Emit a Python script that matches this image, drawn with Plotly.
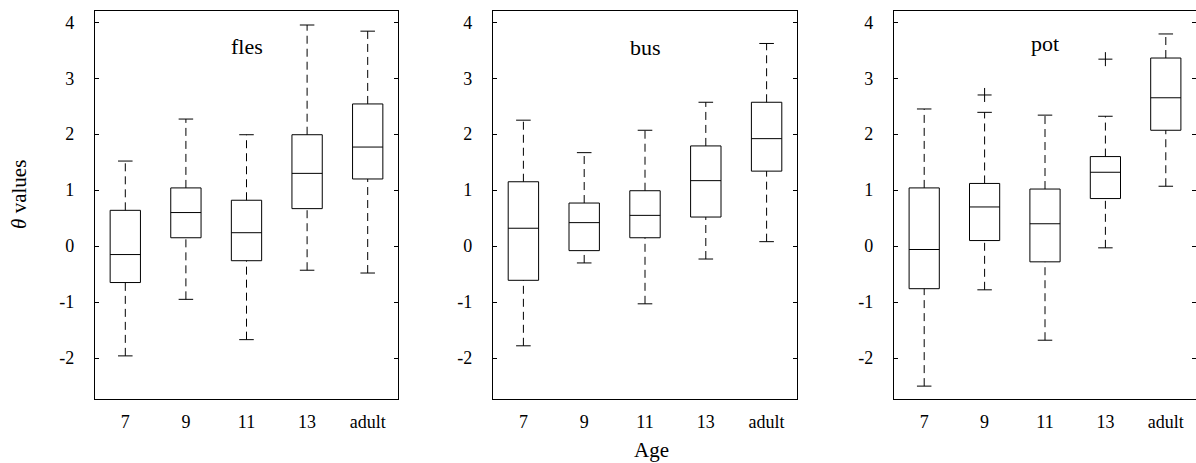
import plotly.graph_objects as go

# ---------------- data ----------------
categories = ["7", "9", "11", "13", "adult"]
panels = ["fles", "bus", "pot"]

fles_lower = [-1.96, -0.95, -1.67, -0.43, -0.48]
fles_q1 = [-0.65, 0.15, -0.26, 0.67, 1.20]
fles_median = [-0.15, 0.60, 0.24, 1.30, 1.77]
fles_q3 = [0.64, 1.04, 0.82, 1.99, 2.54]
fles_upper = [1.52, 2.27, 1.99, 3.95, 3.84]
fles_outliers_cat = []
fles_outliers_val = []

bus_lower = [-1.78, -0.30, -1.03, -0.23, 0.08]
bus_q1 = [-0.61, -0.08, 0.15, 0.52, 1.34]
bus_median = [0.32, 0.42, 0.55, 1.17, 1.92]
bus_q3 = [1.15, 0.77, 0.99, 1.79, 2.57]
bus_upper = [2.25, 1.67, 2.07, 2.57, 3.62]
bus_outliers_cat = []
bus_outliers_val = []

pot_lower = [-2.50, -0.78, -1.68, -0.03, 1.07]
pot_q1 = [-0.76, 0.10, -0.28, 0.85, 2.07]
pot_median = [-0.06, 0.70, 0.40, 1.32, 2.65]
pot_q3 = [1.04, 1.12, 1.02, 1.60, 3.36]
pot_upper = [2.45, 2.39, 2.34, 2.32, 3.79]
pot_outliers_cat = ["9", "13"]
pot_outliers_val = [2.70, 3.34]

y_tickvals = [-2, -1, 0, 1, 2, 3, 4]
y_ticktext = ["-2", "-1", "0", "1", "2", "3", "4"]

# ---------------- style ----------------
FONT = "Liberation Serif, Times New Roman, serif"
BOX_W = 0.5
CAP_HALF = 0.12
domains = [(95 / 1196, 398 / 1196), (493 / 1196, 797 / 1196), (894 / 1196, 1.0)]
title_y = [3.57, 3.55, 3.62]

data = {
    "fles": (fles_lower, fles_q1, fles_median, fles_q3, fles_upper, fles_outliers_cat, fles_outliers_val),
    "bus": (bus_lower, bus_q1, bus_median, bus_q3, bus_upper, bus_outliers_cat, bus_outliers_val),
    "pot": (pot_lower, pot_q1, pot_median, pot_q3, pot_upper, pot_outliers_cat, pot_outliers_val),
}

fig = go.Figure()
pos = list(range(1, len(categories) + 1))

for k, name in enumerate(panels):
    lo, q1, med, q3, up, ocat, oval = data[name]
    xa = "x" if k == 0 else f"x{k+1}"
    ya = "y" if k == 0 else f"y{k+1}"
    # dashed whiskers
    wx, wy = [], []
    for p, a, b, c, d in zip(pos, lo, q1, q3, up):
        wx += [p, p, None, p, p, None]
        wy += [c, d, None, a, b, None]
    fig.add_trace(go.Scatter(x=wx, y=wy, mode="lines", xaxis=xa, yaxis=ya,
                             line=dict(color="black", width=1, dash="8px,5px"),
                             showlegend=False, hoverinfo="skip"))
    # whisker caps
    cx, cy = [], []
    for p, a, d in zip(pos, lo, up):
        cx += [p - CAP_HALF, p + CAP_HALF, None, p - CAP_HALF, p + CAP_HALF, None]
        cy += [d, d, None, a, a, None]
    fig.add_trace(go.Scatter(x=cx, y=cy, mode="lines", xaxis=xa, yaxis=ya,
                             line=dict(color="black", width=1),
                             showlegend=False, hoverinfo="skip"))
    # boxes
    fig.add_trace(go.Box(x=pos, q1=q1, median=med, q3=q3, lowerfence=q1, upperfence=q3,
                         width=BOX_W, whiskerwidth=0, boxpoints=False,
                         line=dict(color="black", width=1), fillcolor="rgba(255,255,255,0)",
                         xaxis=xa, yaxis=ya, showlegend=False))
    # outliers
    if ocat:
        ox = [pos[categories.index(c)] for c in ocat]
        fig.add_trace(go.Scatter(x=ox, y=oval, mode="markers", xaxis=xa, yaxis=ya,
                                 marker=dict(symbol="cross-thin", size=10,
                                             line=dict(color="black", width=1)),
                                 showlegend=False))
    # panel label
    fig.add_annotation(x=3, y=title_y[k], xref=xa, yref=ya, text=name, showarrow=False,
                       font=dict(family=FONT, size=22, color="black"))

    axis_common = dict(showline=True, linecolor="black", linewidth=1.2, mirror="ticks",
                       showgrid=False, zeroline=False)
    fig.layout[("xaxis" if k == 0 else f"xaxis{k+1}")] = dict(
        domain=list(domains[k]), range=[0.5, 5.5], tickvals=pos, ticktext=categories,
        ticks="", anchor=ya, ticklabelstandoff=6, **axis_common)
    fig.layout[("yaxis" if k == 0 else f"yaxis{k+1}")] = dict(
        domain=[0, 1], range=[-2.73, 4.2], tickvals=y_tickvals, ticktext=y_ticktext,
        ticks="inside", ticklen=4, tickcolor="black", anchor=xa, ticklabelstandoff=16,
        **axis_common)

fig.update_xaxes(tickfont=dict(family=FONT, size=18, color="black"))
fig.update_yaxes(tickfont=dict(family=FONT, size=18, color="black"))

fig.add_annotation(x=651 / 1196, y=-0.131, xref="paper", yref="paper", text="Age",
                   showarrow=False, yanchor="middle",
                   font=dict(family=FONT, size=21, color="black"))
fig.add_annotation(x=19 / 1196, y=0.526, xref="paper", yref="paper", text="<i>θ</i> values",
                   textangle=-90, showarrow=False, xanchor="center", yanchor="middle",
                   font=dict(family=FONT, size=21, color="black"))

fig.update_layout(width=1196, height=463, margin=dict(l=0, r=0, t=11, b=64),
                  font=dict(family=FONT, size=17, color="black"),
                  plot_bgcolor="white", paper_bgcolor="white")

fig.write_html("out.html", config={"displayModeBar": False},
               post_script="document.body.style.margin='0px';")
